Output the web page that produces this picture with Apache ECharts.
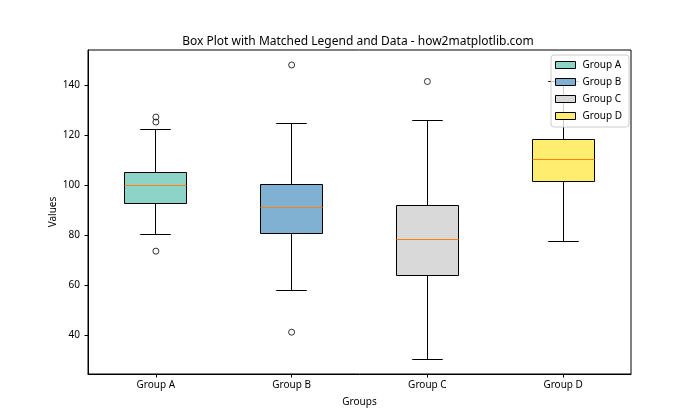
<!DOCTYPE html>
<html>
<head>
<meta charset="utf-8">
<script src="https://cdn.jsdelivr.net/npm/echarts@6/dist/echarts.min.js"></script>
<style>
  html, body { margin: 0; padding: 0; background: #fff; }
  #chart { width: 700px; height: 420px; }
</style>
</head>
<body>
<div id="chart"></div>
<script>
var categories = ['Group A', 'Group B', 'Group C', 'Group D'];
var whiskerLow = [80.1, 58.0, 30.4, 77.6];
var q1 = [92.8, 80.8, 64.0, 101.6];
var median = [100.0, 91.2, 78.4, 110.4];
var q3 = [105.2, 100.2, 91.7, 118.4];
var whiskerHigh = [122.1, 124.8, 125.7, 141.4];
var outliersA = [127.2, 125.2, 73.6];
var outliersB = [148.0, 41.2];
var outliersC = [141.4];
var outliersD = [];
var yTicks = [40, 60, 80, 100, 120, 140];
var colors = ['#8dd3c7', '#80b1d3', '#d9d9d9', '#ffed6f'];

var FONT = 'Noto Sans';
var outlierGroups = [outliersA, outliersB, outliersC, outliersD];

function crisp(v) { return Math.round(v - 0.5) + 0.5; }

function renderBox(params, api) {
  var x = api.value(0);
  var pLo = api.coord([x, api.value(1)]);
  var pQ1 = api.coord([x, api.value(2)]);
  var pMed = api.coord([x, api.value(3)]);
  var pQ3 = api.coord([x, api.value(4)]);
  var pHi = api.coord([x, api.value(5)]);
  var band = api.size([1, 0])[0];
  var bw = band * 0.45;
  var cw = bw / 2;
  var cx = crisp(pMed[0]);
  var yLo = crisp(pLo[1]), yQ1 = crisp(pQ1[1]), yMed = crisp(pMed[1]), yQ3 = crisp(pQ3[1]), yHi = crisp(pHi[1]);
  var bx0 = crisp(cx - bw / 2), bx1 = crisp(cx + bw / 2);
  var lineStyle = { stroke: '#000', lineWidth: 1 };
  return {
    type: 'group',
    children: [
      { type: 'line', shape: { x1: cx, y1: yQ1, x2: cx, y2: yLo }, style: lineStyle },
      { type: 'line', shape: { x1: cx, y1: yQ3, x2: cx, y2: yHi }, style: lineStyle },
      { type: 'line', shape: { x1: cx - cw / 2, y1: yLo, x2: cx + cw / 2, y2: yLo }, style: lineStyle },
      { type: 'line', shape: { x1: cx - cw / 2, y1: yHi, x2: cx + cw / 2, y2: yHi }, style: lineStyle },
      { type: 'rect', shape: { x: bx0, y: yQ3, width: bx1 - bx0, height: yQ1 - yQ3 },
        style: { fill: api.visual('color'), stroke: '#000', lineWidth: 1 } },
      { type: 'line', shape: { x1: bx0, y1: yMed, x2: bx1, y2: yMed },
        style: { stroke: '#ff7f0e', lineWidth: 1 } }
    ]
  };
}

var series = [];
categories.forEach(function (name, i) {
  series.push({
    name: name,
    type: 'custom',
    renderItem: renderBox,
    itemStyle: { color: colors[i] },
    encode: { x: 0, y: [1, 2, 3, 4, 5] },
    data: [[i, whiskerLow[i], q1[i], median[i], q3[i], whiskerHigh[i]]],
    z: 2
  });
});
var outData = [];
outlierGroups.forEach(function (arr, i) {
  arr.forEach(function (v) { outData.push([i, v]); });
});
series.push({
  name: 'outliers',
  type: 'scatter',
  symbol: 'circle',
  symbolSize: 6,
  itemStyle: { color: 'rgba(0,0,0,0)', borderColor: '#000', borderWidth: 1 },
  data: outData,
  z: 3
});

var chart = echarts.init(document.getElementById('chart'), null, { renderer: 'canvas' });
chart.setOption({
  animation: false,
  backgroundColor: '#fff',
  textStyle: { fontFamily: FONT },
  title: {
    text: 'Box Plot with Matched Legend and Data - how2matplotlib.com',
    left: 353,
    textAlign: 'center',
    top: 31,
    textStyle: { fontFamily: FONT, fontSize: 12, fontWeight: 'normal', color: '#000' }
  },
  legend: {
    data: categories,
    orient: 'vertical',
    right: 71,
    top: 55,
    icon: 'rect',
    itemWidth: 20,
    itemHeight: 7,
    itemGap: 5,
    padding: [4, 7, 5, 4],
    backgroundColor: 'rgba(255,255,255,0.8)',
    borderColor: '#cccccc',
    borderWidth: 1,
    borderRadius: 3,
    itemStyle: { borderColor: '#000', borderWidth: 1 },
    textStyle: { fontFamily: FONT, fontSize: 10, color: '#000', lineHeight: 12, padding: [0, 0, 0, 2] },
    selectedMode: false,
    z: 10
  },
  grid: {
    left: 88, right: 69, top: 50, bottom: 46,
    show: true, borderColor: '#000', borderWidth: 1, backgroundColor: 'transparent'
  },
  xAxis: {
    type: 'category',
    data: categories,
    boundaryGap: true,
    name: 'Groups',
    nameLocation: 'middle',
    nameGap: 23,
    nameMoveOverlap: false,
    nameTextStyle: { fontFamily: FONT, fontSize: 10, color: '#000' },
    axisLine: { show: true, lineStyle: { color: '#000', width: 1 } },
    axisTick: { show: true, alignWithLabel: true, length: 3.5, lineStyle: { color: '#000' } },
    axisLabel: { color: '#000', fontSize: 10, fontFamily: FONT, margin: 6 },
    splitLine: { show: false }
  },
  yAxis: {
    type: 'value',
    min: 24.5,
    max: 154,
    name: 'Values',
    nameLocation: 'middle',
    nameRotate: 90,
    nameGap: 30,
    nameMoveOverlap: false,
    nameTextStyle: { fontFamily: FONT, fontSize: 10, color: '#000' },
    axisLine: { show: true, lineStyle: { color: '#000', width: 1 } },
    axisTick: { show: true, length: 3.5, lineStyle: { color: '#000' }, customValues: yTicks },
    axisLabel: { color: '#000', fontSize: 10, fontFamily: FONT, margin: 8, customValues: yTicks },
    splitLine: { show: false }
  },
  series: series
});
</script>
</body>
</html>
